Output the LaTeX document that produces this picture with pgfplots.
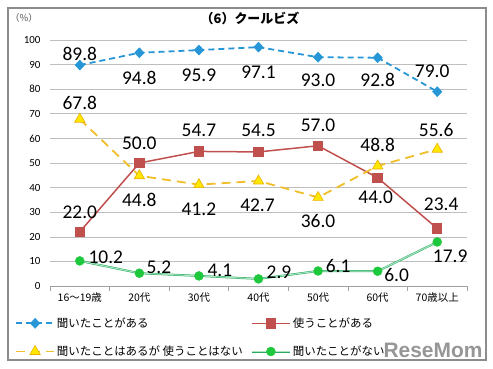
\documentclass[border=0pt]{standalone}
\usepackage{pgfplots}
\pgfplotsset{compat=1.18}
\usepackage{pgfplotstable}
\usepackage{fontspec}
\setmainfont{Carlito}
\newfontfamily\jp{Noto Sans CJK JP}
\definecolor{cblue}{RGB}{38,150,215}
\definecolor{cred}{RGB}{192,80,77}
\definecolor{cyline}{RGB}{240,190,40}
\definecolor{cyfill}{RGB}{255,232,0}
\definecolor{cyedge}{RGB}{235,175,0}
\definecolor{cgreen}{RGB}{40,170,100}
\definecolor{cgfill}{RGB}{30,200,60}
\definecolor{cgin}{RGB}{170,230,190}

\pgfplotstableread{
x y dx dy
0 89.8 0 11.5
1 94.8 0 -25
2 95.9 0 -25
3 97.1 0 -25
4 93.0 0 -23
5 92.8 0 -22
6 79.0 -5 20
}\tblue
\pgfplotstableread{
x y dx dy
0 22.0 0 20
1 50.0 0 20
2 54.7 0 21
3 54.5 0 22
4 57.0 0 21
5 44.0 -2 -20
6 23.4 4 24
}\tred
\pgfplotstableread{
x y dx dy
0 67.8 0 16
1 44.8 0 -24
2 41.2 0 -24.5
3 42.7 -1 -24
4 36.0 0 -24
5 48.8 0 21
6 55.6 -1 19
}\tyellow
\pgfplotstableread{
x y dx dy
0 10.2 26 4
1 5.2 19.5 6
2 4.1 21 6
3 2.9 20.5 7
4 6.1 20 5
5 6.0 19 -4
6 17.9 13 -14
}\tgreen

\begin{document}
\begin{tikzpicture}
\path (-50bp,-83bp) rectangle (443bp,286bp);
\draw[color={rgb,255:red,140;green,140;blue,140}, line width=1.6bp] (-42bp,-74bp) rectangle (436bp,278bp);
\begin{axis}[
  at={(0,0)}, anchor=south west,
  scale only axis, width=417bp, height=246bp,
  xmin=-0.5, xmax=6.5, ymin=0, ymax=100,
  xtick={0,...,6},
  xticklabels={16～19歳,20代,30代,40代,50代,60代,70歳以上},
  minor xtick={-0.5,0.5,...,6.5},
  ytick={0,10,...,100},
  ymajorgrids,
  grid style={color={rgb,255:red,190;green,190;blue,190}, line width=0.6bp},
  axis x line*=bottom, axis y line*=left,
  x axis line style={color={rgb,255:red,160;green,160;blue,160}, line width=0.7bp, -},
  y axis line style={draw=none},
  major tick length=0pt, minor tick length=5bp, tick align=outside,
  minor tick style={color={rgb,255:red,160;green,160;blue,160}, line width=0.7bp},
  /pgf/number format/assume math mode=true,
  yticklabel style={font=\fontsize{11}{12}\selectfont, xshift=-6bp},
  xticklabel style={font=\jp\fontsize{10.5}{12}\selectfont, yshift=-3bp},
  legend columns=2,
  legend cell align=left,
  legend style={draw=none, fill=none, at={(rel axis cs:-0.0911,-0.112)}, anchor=north west,
    font=\jp\fontsize{11.5}{13}\selectfont, row sep=13bp,
    /tikz/every even column/.append style={column sep=6bp}},
  legend image code/.code={\draw[mark repeat=2,mark phase=2,#1] plot coordinates {(0bp,0bp) (19bp,0bp) (38bp,0bp)};},
]
\pgfplotsset{
  mylabels/.style={
    visualization depends on={\thisrow{dx} \as \dx},
    visualization depends on={\thisrow{dy} \as \dy},
    nodes near coords={\pgfmathprintnumber[fixed,fixed zerofill,precision=1]{\pgfplotspointmeta}},
    nodes near coords style={font=\fontsize{19.5}{20}\selectfont, text=black, anchor=center, xshift=\dx bp, yshift=\dy bp},
  }
}
\addplot[color=cblue, line width=1.8bp, dash pattern=on 6bp off 4bp, mark=diamond*, mark size=5bp,
  mark options={solid, fill=cblue, draw=cblue, line width=0.5bp, xscale=1.25}, mylabels] table[x=x,y=y] {\tblue};
\addlegendentry{聞いたことがある}
\addplot[color=cred, line width=1.5bp, mark=square*, mark size=4.5bp,
  mark options={solid, fill=cred, draw=cred}, mylabels] table[x=x,y=y] {\tred};
\addlegendentry{使うことがある}
\addplot[color=cyline, line width=1.8bp, dash pattern=on 9bp off 6bp, mark=triangle*, mark size=6bp,
  mark options={solid, fill=cyfill, draw=cyedge, line width=0.6bp}, mylabels] table[x=x,y=y] {\tyellow};
\addlegendentry{聞いたことはあるが 使うことはない}
\addplot[draw=cgreen, line width=0.5bp, double=cgin, double distance=1bp, mark=*, mark size=4.5bp,
  mark options={fill=cgfill, draw=cgfill, double=none, line width=0.4bp}, mylabels] table[x=x,y=y] {\tgreen};
\addlegendentry{聞いたことがない}
\end{axis}
\node[font=\jp\bfseries\fontsize{13}{15}\selectfont] at (200bp,268bp) {（6）クールビズ};
\node[font=\jp\fontsize{9.5}{11}\selectfont, text={rgb,255:red,90;green,90;blue,90}] at (-26bp,268bp) {（\%）};
\node[font=\fontspec{Liberation Sans}\bfseries\fontsize{21}{22}\selectfont, text={rgb,255:red,150;green,150;blue,150}] at (383bp,-64bp) {ReseMom};
\end{tikzpicture}
\end{document}
